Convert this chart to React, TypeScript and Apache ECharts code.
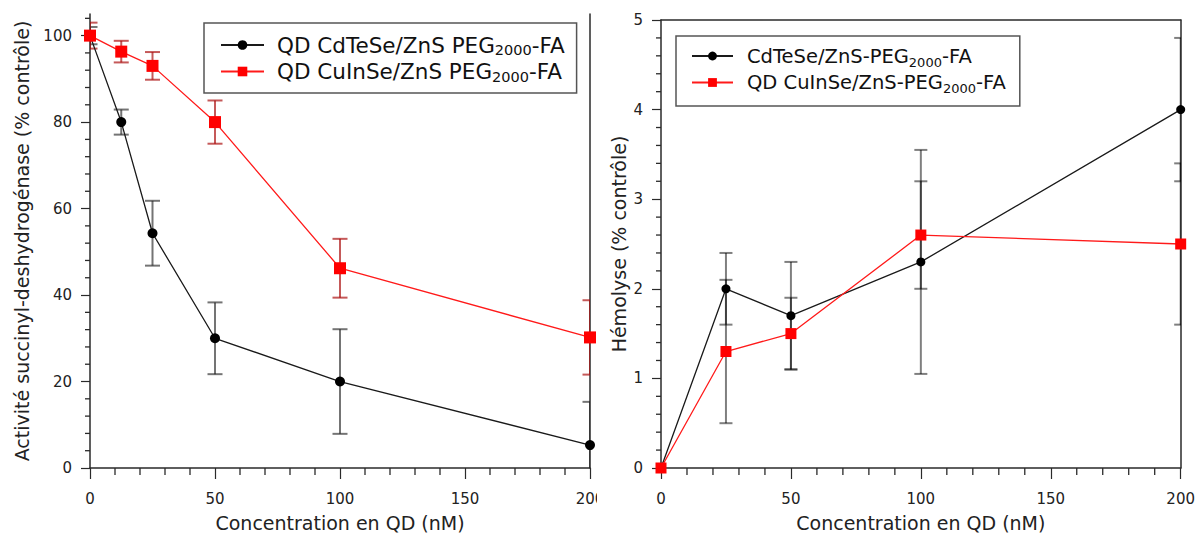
import React, { useEffect, useRef } from 'react';
import * as echarts from 'echarts';

const FONT = '"DejaVu Sans", Verdana, sans-serif';

// ---- Left panel: succinyl-deshydrogenase activity ----
const leftConc = [0, 12.5, 25, 50, 100, 200];
const leftCdTeSe = [100, 80, 54.3, 30, 20, 5.3];
const leftCdTeSeErr = [2, 2.9, 7.5, 8.3, 12.1, 10];
const leftCuInSe = [100, 96.3, 93, 80, 46.2, 30.2];
const leftCuInSeErr = [3, 2.5, 3.2, 5, 6.8, 8.6];

// ---- Right panel: hemolysis ----
const rightConc = [0, 25, 50, 100, 200];
const rightCdTeSe = [0, 2.0, 1.7, 2.3, 4.0];
const rightCdTeSeErr = [0, 0.4, 0.6, 1.25, 0.8];
const rightCuInSe = [0, 1.3, 1.5, 2.6, 2.5];
const rightCuInSeErr = [0, 0.8, 0.4, 0.6, 0.9];

// ---- Ticks ----
const leftYTicks = [0, 20, 40, 60, 80, 100];
const leftYMinorTicks = [4, 8, 12, 16, 24, 28, 32, 36, 44, 48, 52, 56, 64, 68, 72, 76, 84, 88, 92, 96, 104];
const rightYMinorTicks = [0.2, 0.4, 0.6, 0.8, 1.2, 1.4, 1.6, 1.8, 2.2, 2.4, 2.6, 2.8, 3.2, 3.4, 3.6, 3.8, 4.2, 4.4, 4.6, 4.8];
const xMinorTicks = [10, 20, 30, 40, 60, 70, 80, 90, 110, 120, 130, 140, 160, 170, 180, 190];

const leftNameA = 'QD CdTeSe/ZnS PEG2000-FA';
const leftNameB = 'QD CuInSe/ZnS PEG2000-FA';
const rightNameA = 'CdTeSe/ZnS-PEG2000-FA';
const rightNameB = 'QD CuInSe/ZnS-PEG2000-FA';

const xTitle = 'Concentration en QD (nM)';
const leftYTitle = 'Activité succinyl-deshydrogénase (% contrôle)';
const rightYTitle = 'Hémolyse (% contrôle)';

const AXIS = '#2a2a2a';

function errData(xs: number[], ys: number[], es: number[]) {
  const out: number[][] = [];
  xs.forEach((x, i) => {
    if (es[i] > 0) out.push([x, ys[i] - es[i], ys[i] + es[i]]);
  });
  return out;
}

function errSeries(data: number[][], xIdx: number, yIdx: number, color: string, capHalf: number) {
  return {
    type: 'custom',
    xAxisIndex: xIdx,
    yAxisIndex: yIdx,
    clip: true,
    z: 1,
    silent: true,
    encode: { x: 0, y: [1, 2] },
    data,
    renderItem: (params: any, api: any) => {
      const x = api.value(0);
      const lo = api.coord([x, api.value(1)]);
      const hi = api.coord([x, api.value(2)]);
      const style = { stroke: color, lineWidth: 2 };
      return {
        type: 'group',
        children: [
          { type: 'line', shape: { x1: lo[0], y1: lo[1], x2: hi[0], y2: hi[1] }, style },
          { type: 'line', shape: { x1: lo[0] - capHalf, y1: lo[1], x2: lo[0] + capHalf, y2: lo[1] }, style },
          { type: 'line', shape: { x1: hi[0] - capHalf, y1: hi[1], x2: hi[0] + capHalf, y2: hi[1] }, style },
        ],
      };
    },
  };
}

function legendFormatter(name: string) {
  const parts = name.split('2000');
  return '{f|' + parts[0] + '}{s|2000}{m|' + parts[1] + '}';
}

function xAxisCfg(gridIndex: number) {
  return {
    type: 'value',
    gridIndex,
    position: 'bottom',
    min: 0,
    max: 200,
    interval: 50,
    name: xTitle,
    nameLocation: 'middle',
    nameGap: 45,
    nameTextStyle: { fontFamily: FONT, fontSize: 19, color: '#222' },
    axisLine: { show: true, onZero: false, lineStyle: { color: AXIS, width: 1.5 } },
    axisTick: { show: true, length: 11, lineStyle: { color: AXIS, width: 1.2 } },
    axisLabel: { fontFamily: FONT, fontSize: 15, color: '#222', margin: 23 },
    splitLine: { show: false },
  };
}

function borderAxis(gridIndex: number, min: number, max: number) {
  return {
    type: 'value',
    gridIndex,
    position: 'right',
    min,
    max,
    axisLine: { show: true, onZero: false, lineStyle: { color: AXIS, width: 1.5 } },
    axisTick: { show: false },
    axisLabel: { show: false },
    splitLine: { show: false },
  };
}

export default function App() {
  const ref = useRef<HTMLDivElement>(null);

  useEffect(() => {
    if (!ref.current) return;
    const chart = echarts.init(ref.current, undefined, { renderer: 'svg' });

    const legendText = (size: number, sub: number, lh: number, gap: number) => ({
      fontFamily: FONT,
      color: '#111',
      rich: {
        f: { fontFamily: FONT, fontSize: size, lineHeight: lh, color: '#111', padding: [0, 0, 0, gap] },
        m: { fontFamily: FONT, fontSize: size, lineHeight: lh, color: '#111' },
        s: { fontFamily: FONT, fontSize: sub, lineHeight: 15, color: '#111', verticalAlign: 'bottom' },
      },
    });

    const option: any = {
      animation: false,
      backgroundColor: '#ffffff',
      grid: [
        { left: 90, right: 608, top: 14, bottom: 66, containLabel: false },
        { left: 661, right: 15, top: 20, bottom: 67, containLabel: false },
      ],
      xAxis: [
        xAxisCfg(0),
        xAxisCfg(1),
        {
          type: 'value',
          gridIndex: 1,
          position: 'top',
          min: 0,
          max: 200,
          axisLine: { show: true, onZero: false, lineStyle: { color: AXIS, width: 1.5 } },
          axisTick: { show: false },
          axisLabel: { show: false },
          splitLine: { show: false },
        },
      ],
      yAxis: [
        {
          type: 'value',
          gridIndex: 0,
          position: 'left',
          min: 0,
          max: 105,
          interval: 20,
          name: leftYTitle,
          nameLocation: 'middle',
          nameGap: 59,
          nameTextStyle: { fontFamily: FONT, fontSize: 19, color: '#222' },
          axisLine: { show: true, onZero: false, lineStyle: { color: AXIS, width: 1.5 } },
          axisTick: { show: true, length: 9, customValues: leftYTicks, lineStyle: { color: AXIS, width: 1.2 } },
          axisLabel: { fontFamily: FONT, fontSize: 15, color: '#222', margin: 18, customValues: leftYTicks },
          splitLine: { show: false },
        },
        borderAxis(0, 0, 105),
        {
          type: 'value',
          gridIndex: 1,
          position: 'left',
          min: 0,
          max: 5,
          interval: 1,
          name: rightYTitle,
          nameLocation: 'middle',
          nameGap: 33,
          nameTextStyle: { fontFamily: FONT, fontSize: 19, color: '#222' },
          axisLine: { show: true, onZero: false, lineStyle: { color: AXIS, width: 1.5 } },
          axisTick: { show: true, length: 9, lineStyle: { color: AXIS, width: 1.2 } },
          axisLabel: { fontFamily: FONT, fontSize: 15, color: '#222', margin: 18 },
          splitLine: { show: false },
        },
        borderAxis(1, 0, 5),
      ],
      legend: [
        {
          orient: 'vertical',
          left: 204,
          top: 23,
          data: [leftNameA, leftNameB],
          borderColor: '#555',
          borderWidth: 1.5,
          padding: [11, 12, 9, 16],
          itemWidth: 43,
          itemHeight: 12,
          itemGap: 3,
          formatter: legendFormatter,
          textStyle: legendText(21.5, 14.5, 25, 8),
        },
        {
          orient: 'vertical',
          left: 676,
          top: 36,
          data: [rightNameA, rightNameB],
          borderColor: '#555',
          borderWidth: 1.5,
          padding: [10, 14, 11, 15],
          itemWidth: 41,
          itemHeight: 11,
          itemGap: 4,
          formatter: legendFormatter,
          textStyle: legendText(19.5, 13, 25, 9),
        },
      ],
      series: [
        errSeries(errData(leftConc, leftCdTeSe, leftCdTeSeErr), 0, 0, 'rgba(30,30,30,0.62)', 7.5),
        errSeries(errData(leftConc, leftCuInSe, leftCuInSeErr), 0, 0, 'rgba(170,10,10,0.68)', 7.5),
        errSeries(errData(rightConc, rightCdTeSe, rightCdTeSeErr), 1, 2, 'rgba(0,0,0,0.5)', 6.5),
        errSeries(errData(rightConc, rightCuInSe, rightCuInSeErr), 1, 2, 'rgba(0,0,0,0.5)', 6.5),
        {
          name: leftNameA,
          type: 'line',
          xAxisIndex: 0,
          yAxisIndex: 0,
          z: 3,
          symbol: 'circle',
          symbolSize: 10,
          data: leftConc.map((c, i) => [c, leftCdTeSe[i]]),
          itemStyle: { color: '#000' },
          lineStyle: { color: '#1a1a1a', width: 1.3 },
        },
        {
          name: leftNameB,
          type: 'line',
          xAxisIndex: 0,
          yAxisIndex: 0,
          z: 4,
          symbol: 'rect',
          symbolSize: 12,
          data: leftConc.map((c, i) => [c, leftCuInSe[i]]),
          itemStyle: { color: '#ff0000' },
          lineStyle: { color: '#ff1a1a', width: 1.3 },
        },
        {
          name: rightNameA,
          type: 'line',
          xAxisIndex: 1,
          yAxisIndex: 2,
          z: 3,
          symbol: 'circle',
          symbolSize: 9,
          data: rightConc.map((c, i) => [c, rightCdTeSe[i]]),
          itemStyle: { color: '#000' },
          lineStyle: { color: '#1a1a1a', width: 1.3 },
        },
        {
          name: rightNameB,
          type: 'line',
          xAxisIndex: 1,
          yAxisIndex: 2,
          z: 4,
          symbol: 'rect',
          symbolSize: 11,
          data: rightConc.map((c, i) => [c, rightCuInSe[i]]),
          itemStyle: { color: '#ff0000' },
          lineStyle: { color: '#ff1a1a', width: 1.3 },
        },
      ],
    };

    chart.setOption(option);

    // minor ticks, positioned through the series' own coordinate systems
    const tickStyle = { stroke: AXIS, lineWidth: 1.3 };
    const els: any[] = [];
    const addX = (seriesIndex: number, values: number[], len: number) => {
      values.forEach((v) => {
        const p = chart.convertToPixel({ seriesIndex }, [v, 0]) as number[];
        if (p) els.push({ type: 'line', silent: true, shape: { x1: p[0], y1: p[1], x2: p[0], y2: p[1] + len }, style: tickStyle, z: 50 });
      });
    };
    const addY = (seriesIndex: number, values: number[], len: number) => {
      values.forEach((v) => {
        const p = chart.convertToPixel({ seriesIndex }, [0, v]) as number[];
        if (p) els.push({ type: 'line', silent: true, shape: { x1: p[0], y1: p[1], x2: p[0] - len, y2: p[1] }, style: tickStyle, z: 50 });
      });
    };
    addX(4, xMinorTicks, 7);
    addX(6, xMinorTicks, 7);
    addY(4, leftYMinorTicks, 5);
    addY(6, rightYMinorTicks, 5);
    els.push({ type: 'rect', left: 597, top: 480, shape: { width: 8, height: 40 }, style: { fill: '#ffffff' }, z: 100 });
    chart.setOption({ graphic: els });

    return () => chart.dispose();
  }, []);

  return (
    <div
      ref={ref}
      style={{ position: 'absolute', left: 0, top: 0, width: 1198, height: 537, background: '#fff' }}
    />
  );
}
